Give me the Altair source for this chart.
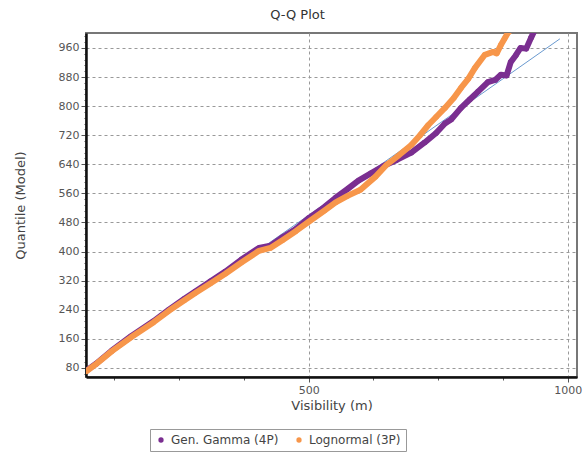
import altair as alt
import pandas as pd

series_names = ["Gen. Gamma (4P)", "Lognormal (3P)"]
series_colors = ["#7A2E90", "#F7964A"]

gg_visibility = [70, 90, 120, 157, 200, 230, 260, 281, 310, 339, 370, 404, 426, 450, 475,
                 500, 530, 552, 575, 596, 620, 645, 670, 698, 724, 746, 763, 775, 794, 811,
                 827, 846, 860, 871, 882, 890, 900, 909, 920, 929, 935]
gg_quantile = [72, 92, 128, 167, 208, 240, 270, 290, 318, 345, 378, 410, 416, 440, 462,
               492, 522, 548, 572, 595, 615, 636, 652, 672, 700, 726, 752, 763, 795, 818,
               840, 866, 872, 886, 884, 921, 940, 960, 958, 987, 1005]

ln_visibility = [70, 90, 120, 157, 200, 230, 260, 281, 310, 339, 370, 404, 426, 450, 475,
                 500, 530, 552, 575, 600, 629, 650, 670, 698, 715, 731, 746, 763, 780, 794,
                 808, 821, 840, 856, 863, 871, 878, 884, 890]
ln_quantile = [70, 91, 126, 164, 205, 237, 266, 286, 312, 339, 370, 402, 410, 432, 456,
               482, 512, 535, 553, 570, 606, 638, 660, 693, 720, 748, 770, 795, 822, 850,
               875, 905, 941, 949, 945, 968, 985, 1000, 1010]

ref_visibility = [70, 985]
ref_quantile = [70, 985]

x_tick_values = [125, 250, 375, 500, 625, 750, 875, 1000]
y_tick_values = [64 + 16 * i for i in range(59)]

rows = []
for v, q in zip(gg_visibility, gg_quantile):
    rows.append({"series": series_names[0], "visibility": v, "quantile": q, "order": len(rows)})
for v, q in zip(ln_visibility, ln_quantile):
    rows.append({"series": series_names[1], "visibility": v, "quantile": q, "order": len(rows)})
df = pd.DataFrame(rows)
ref_df = pd.DataFrame({"visibility": ref_visibility, "quantile": ref_quantile})

x_scale = alt.Scale(domain=[70, 1018], nice=False, zero=False)
y_scale = alt.Scale(domain=[55, 1001], nice=False, zero=False)

x_axis = alt.Axis(
    title="Visibility (m)",
    values=x_tick_values,
    labelExpr="datum.value % 500 === 0 ? datum.label : ''",
    format="d",
    grid=True,
    gridOpacity={"condition": {"test": "datum.value % 500 === 0", "value": 1}, "value": 0},
    tickSize={"condition": {"test": "datum.value % 500 === 0", "value": 5}, "value": 3},
    titlePadding=4,
    labelPadding=2,
)
y_axis = alt.Axis(
    title="Quantile (Model)",
    values=y_tick_values,
    labelExpr="datum.value % 80 === 0 ? datum.label : ''",
    format="d",
    grid=True,
    gridOpacity={"condition": {"test": "datum.value % 80 === 0", "value": 1}, "value": 0},
    tickSize={"condition": {"test": "datum.value % 80 === 0", "value": 5}, "value": 2},
    titlePadding=31,
    labelPadding=2,
)

color_enc = alt.Color(
    "series:N",
    scale=alt.Scale(domain=series_names, range=series_colors),
    legend=alt.Legend(
        title=None,
        orient="none",
        direction="horizontal",
        legendX=64,
        legendY=396,
        symbolType="circle",
        symbolSize=28,
        symbolStrokeWidth=0,
        labelFontSize=12,
        labelColor="#444",
        columnPadding=14,
        padding=5,
        strokeColor="#999",
        fillColor="white",
    ),
)

ref = alt.Chart(ref_df).mark_line(color="#6A9AD0", strokeWidth=1, clip=True).encode(
    x=alt.X("visibility:Q", scale=x_scale, axis=x_axis),
    y=alt.Y("quantile:Q", scale=y_scale, axis=y_axis),
)

points = alt.Chart(df).mark_circle(size=30, opacity=1, clip=True).encode(
    x=alt.X("visibility:Q", scale=x_scale, axis=x_axis),
    y=alt.Y("quantile:Q", scale=y_scale, axis=y_axis),
    color=color_enc,
)

lines = alt.Chart(df).mark_line(strokeWidth=6, clip=True, strokeJoin="round").encode(
    x=alt.X("visibility:Q", scale=x_scale, axis=x_axis),
    y=alt.Y("quantile:Q", scale=y_scale, axis=y_axis),
    order="order:Q",
    color=color_enc,
)

chart = alt.layer(ref, points, lines).properties(
    width=491,
    height=344,
    autosize=alt.AutoSizeParams(type="none"),
    padding={"left": 86, "top": 33, "right": 11, "bottom": 75},
    title=alt.TitleParams("Q-Q Plot", fontSize=13, fontWeight="normal", color="#333",
                          offset=11, dx=-34),
).configure(
    font="DejaVu Sans",
    background="white",
).configure_view(
    stroke="#777",
    strokeWidth=2,
).configure_axis(
    labelFontSize=11,
    labelColor="#555",
    titleFontSize=13,
    titleFontWeight="normal",
    titleColor="#444",
    tickColor="#555",
    domainColor="#111",
    domainWidth=2.5,
    gridColor="#999",
    gridDash=[3, 3],
    gridWidth=1,
)

chart.save("out.html", embed_options={"renderer": "svg", "actions": False})
